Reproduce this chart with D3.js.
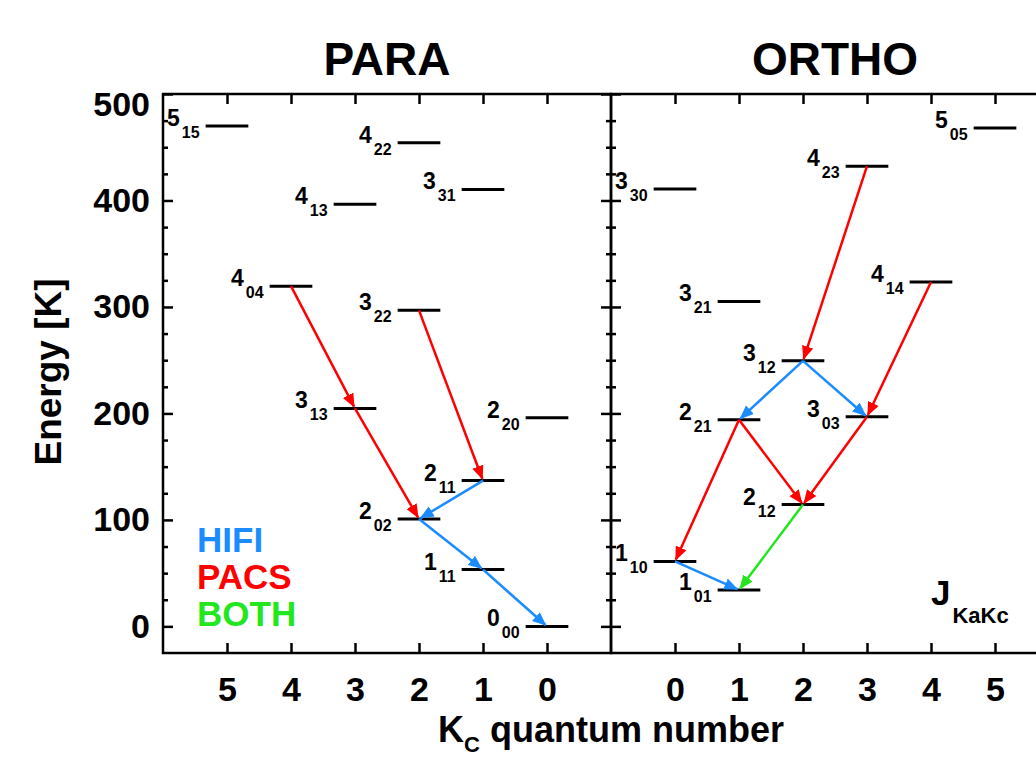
<!DOCTYPE html>
<html>
<head>
<meta charset="utf-8">
<script src="https://cdn.jsdelivr.net/npm/d3@7"></script>
<style>
  body { margin: 0; background: #fff; }
  svg { display: block; font-family: "Liberation Sans", Arial, Helvetica, sans-serif; font-weight: bold; }
</style>
</head>
<body>
<svg id="vis" width="1036" height="758"></svg>
<script>
// para water levels: J, KaKc subscript, Kc, energy [K]
const paraJ = ['0', '1', '2', '2', '2', '3', '3', '3', '4', '4', '4', '5'];
const paraSub = ['00', '11', '02', '11', '20', '13', '22', '31', '04', '13', '22', '15'];
const paraKc = [0, 1, 2, 1, 0, 3, 2, 1, 4, 3, 2, 5];
const paraEnergy = [0, 53.4, 100.8, 136.9, 195.9, 204.7, 296.8, 410.4, 319.5, 396.4, 454.3, 469.9];

// ortho water levels
const orthoJ = ['1', '1', '2', '2', '3', '3', '3', '3', '4', '4', '5'];
const orthoSub = ['01', '10', '12', '21', '03', '12', '21', '30', '14', '23', '05'];
const orthoKc = [1, 0, 2, 1, 3, 2, 1, 0, 4, 3, 5];
const orthoEnergy = [34.2, 61.0, 114.4, 194.1, 196.8, 249.4, 305.2, 410.7, 323.5, 432.2, 468.1];

// transitions: upper level, lower level, instrument
const paraTransitions = [
  ['4_04', '3_13', 'PACS'], ['3_13', '2_02', 'PACS'], ['3_22', '2_11', 'PACS'],
  ['2_11', '2_02', 'HIFI'], ['2_02', '1_11', 'HIFI'], ['1_11', '0_00', 'HIFI']
];
const orthoTransitions = [
  ['4_23', '3_12', 'PACS'], ['4_14', '3_03', 'PACS'], ['3_12', '2_21', 'HIFI'],
  ['3_12', '3_03', 'HIFI'], ['2_21', '1_10', 'PACS'], ['2_21', '2_12', 'PACS'],
  ['3_03', '2_12', 'PACS'], ['1_10', '1_01', 'HIFI'], ['2_12', '1_01', 'BOTH']
];

const instruments = ['HIFI', 'PACS', 'BOTH'];
const instrumentColors = ['#1a8cff', '#ff0000', '#22e61e'];

const kcTicks = [0, 1, 2, 3, 4, 5];
const energyTicks = [0, 100, 200, 300, 400, 500];
const energyMinorTicks = d3.range(0, 500, 25).filter(v => v % 100 !== 0);

const vis = d3.select('#vis');
const plotTop = 94, plotBottom = 653, plotLeft = 163, plotMid = 611, plotRight = 1059;

const y = d3.scaleLinear().domain([-25, 500]).range([plotBottom, plotTop]);
const xPara = d3.scaleLinear().domain([6, -1]).range([plotLeft, plotMid]);
const xOrtho = d3.scaleLinear().domain([-1, 6]).range([plotMid, plotRight]);
const color = d3.scaleOrdinal().domain(instruments).range(instrumentColors);

// arrow heads, one per instrument colour
const defs = vis.append('defs');
defs.selectAll('marker')
  .data(instruments)
  .enter()
    .append('marker')
    .attr('id', d => 'head-' + d)
    .attr('viewBox', '0 0 12 10')
    .attr('markerUnits', 'userSpaceOnUse')
    .attr('markerWidth', 14)
    .attr('markerHeight', 12)
    .attr('refX', 11)
    .attr('refY', 5)
    .attr('orient', 'auto')
  .append('path')
    .attr('d', 'M0,0 L12,5 L0,10 Z')
    .attr('fill', d => color(d));

function styleAxis(g) {
  g.select('.domain').remove();
  g.selectAll('.tick line').attr('stroke', '#000').attr('stroke-width', 2.5);
  g.selectAll('.tick text')
    .attr('fill', '#000')
    .style('font-size', '34px')
    .style('font-family', '"Liberation Sans", Arial, sans-serif')
    .style('font-weight', 'bold');
}

function drawPanel(x, names, subs, kcs, energies, transitions, showEnergyLabels) {
  const levels = names.map((j, i) => ({ j: j, sub: subs[i], kc: kcs[i], e: energies[i], key: j + '_' + subs[i] }));
  const byKey = new Map(levels.map(d => [d.key, d]));
  const half = Math.abs(x(1) - x(0)) / 3;
  const x0 = Math.min(x.range()[0], x.range()[1]);
  const x1 = Math.max(x.range()[0], x.range()[1]);

  // x ticks, bottom (with labels) and top
  vis.append('g')
    .attr('transform', 'translate(0,' + plotBottom + ')')
    .call(d3.axisBottom(x).tickValues(kcTicks).tickFormat(d3.format('d')).tickSize(-10).tickPadding(24))
    .call(styleAxis);
  vis.append('g')
    .attr('transform', 'translate(0,' + plotTop + ')')
    .call(d3.axisTop(x).tickValues(kcTicks).tickFormat('').tickSize(-10))
    .call(styleAxis);

  // y ticks on the left edge of the panel (inward)
  const leftAxis = vis.append('g')
    .attr('transform', 'translate(' + x0 + ',0)')
    .call(d3.axisLeft(y).tickValues(energyTicks).tickFormat(showEnergyLabels ? d3.format('d') : '').tickSize(-10).tickPadding(13))
    .call(styleAxis);
  leftAxis.selectAll('.tick text').filter(d => d === 500).attr('dy', '0.62em');
  vis.append('g')
    .attr('transform', 'translate(' + x0 + ',0)')
    .call(d3.axisLeft(y).tickValues(energyMinorTicks).tickFormat('').tickSize(-5))
    .call(styleAxis);

  // y ticks on the right edge of the panel (inward)
  vis.append('g')
    .attr('transform', 'translate(' + x1 + ',0)')
    .call(d3.axisRight(y).tickValues(energyTicks).tickFormat('').tickSize(-10))
    .call(styleAxis);
  vis.append('g')
    .attr('transform', 'translate(' + x1 + ',0)')
    .call(d3.axisRight(y).tickValues(energyMinorTicks).tickFormat('').tickSize(-5))
    .call(styleAxis);

  vis.append('rect')
    .attr('x', x0).attr('y', plotTop)
    .attr('width', x1 - x0).attr('height', plotBottom - plotTop)
    .attr('fill', 'none').attr('stroke', '#000').attr('stroke-width', 2.5);

  // level bars
  const g = vis.append('g');
  g.selectAll('line.level')
    .data(levels)
    .enter()
      .append('line')
      .classed('level', true)
      .attr('x1', d => x(d.kc) - half)
      .attr('x2', d => x(d.kc) + half)
      .attr('y1', d => y(d.e))
      .attr('y2', d => y(d.e))
      .attr('stroke', '#000')
      .attr('stroke-width', 3);

  const labels = g.selectAll('text.level')
    .data(levels)
    .enter()
      .append('text')
      .classed('level', true)
      .attr('x', d => x(d.kc) - half - 6)
      .attr('y', d => y(d.e))
      .attr('text-anchor', 'end')
      .attr('fill', '#000');
  labels.append('tspan').style('font-size', '23px').text(d => d.j);
  labels.append('tspan').attr('dx', 2).attr('dy', 12).style('font-size', '16px').text(d => d.sub);

  // transitions
  g.selectAll('line.transition')
    .data(transitions)
    .enter()
      .append('line')
      .classed('transition', true)
      .each(function(d) {
        const a = byKey.get(d[0]), b = byKey.get(d[1]);
        const ax = x(a.kc), ay = y(a.e), bx = x(b.kc), by = y(b.e);
        const len = Math.hypot(bx - ax, by - ay);
        d3.select(this)
          .attr('x1', ax).attr('y1', ay)
          .attr('x2', bx - (bx - ax) / len * 2)
          .attr('y2', by - (by - ay) / len * 2);
      })
      .attr('stroke', d => color(d[2]))
      .attr('stroke-width', 2.5)
      .attr('marker-end', d => 'url(#head-' + d[2] + ')');
}

drawPanel(xPara, paraJ, paraSub, paraKc, paraEnergy, paraTransitions, true);
drawPanel(xOrtho, orthoJ, orthoSub, orthoKc, orthoEnergy, orthoTransitions, false);

// panel titles
vis.selectAll('text.title')
  .data([['PARA', (plotLeft + plotMid) / 2], ['ORTHO', (plotMid + plotRight) / 2]])
  .enter()
    .append('text')
    .classed('title', true)
    .attr('x', d => d[1])
    .attr('y', 75)
    .attr('text-anchor', 'middle')
    .style('font-size', '46px')
    .text(d => d[0]);

// axis titles
vis.append('text')
  .attr('transform', 'translate(61,372) rotate(-90)')
  .attr('text-anchor', 'middle')
  .style('font-size', '37px')
  .text('Energy [K]');

const xTitle = vis.append('text')
  .attr('x', plotMid)
  .attr('y', 742)
  .attr('text-anchor', 'middle')
  .style('font-size', '36px');
xTitle.append('tspan').text('K');
xTitle.append('tspan').attr('dy', 10).style('font-size', '22px').text('C');
xTitle.append('tspan').attr('dy', -10).text(' quantum number');

// instrument legend
vis.selectAll('text.legend')
  .data(instruments)
  .enter()
    .append('text')
    .classed('legend', true)
    .attr('x', 197)
    .attr('y', (d, i) => 552 + i * 37)
    .attr('fill', d => color(d))
    .style('font-size', '35px')
    .text(d => d);

// quantum number notation
const jLabel = vis.append('text')
  .attr('x', 931)
  .attr('y', 605)
  .style('font-size', '35px');
jLabel.append('tspan').text('J');
jLabel.append('tspan').attr('dx', 2).attr('dy', 18).style('font-size', '22px').text('KaKc');
</script>
</body>
</html>
